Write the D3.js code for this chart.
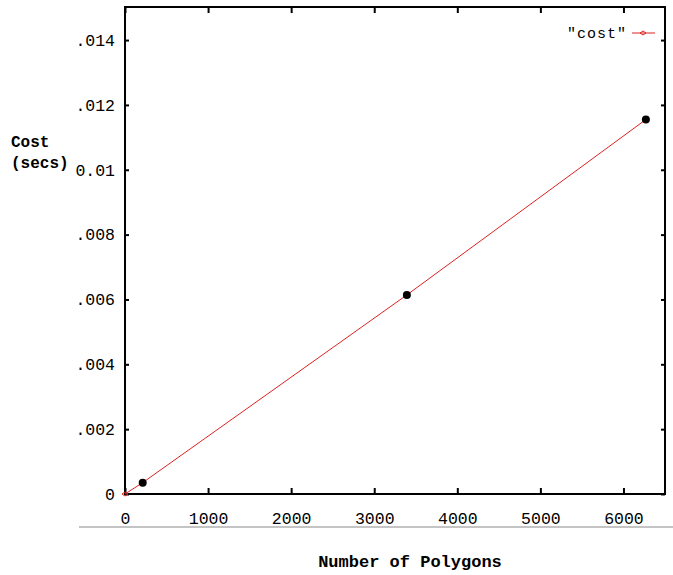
<!DOCTYPE html>
<html>
<head>
<meta charset="utf-8">
<script src="https://cdn.jsdelivr.net/npm/d3@7"></script>
<style>
  body { margin: 0; background: #fff; }
  svg { display: block; }
</style>
</head>
<body>
<div id="chart"></div>
<script>
    // values
    const polygons = [0, 213, 3393, 6270];
    const costs = [0, 0.00035, 0.00614, 0.01155];
    const xTicks = [0, 1000, 2000, 3000, 4000, 5000, 6000];
    const yTicks = [0, 0.002, 0.004, 0.006, 0.008, 0.01, 0.012, 0.014];
    const yTickLabels = ["0", ".002", ".004", ".006", ".008", "0.01", ".012", ".014"];

    const width = 673;
    const height = 575;
    const margin = { top: 7, right: 8, bottom: 81, left: 125 };

    const x = d3.scaleLinear()
        .domain([0, 6500])
        .range([margin.left, width - margin.right]);

    const y = d3.scaleLinear()
        .domain([0, 0.01502])
        .range([height - margin.bottom, margin.top]);

    const svg = d3.select("#chart")
        .append("svg")
        .attr("width", width)
        .attr("height", height);

    const mono = "'Liberation Mono', 'DejaVu Sans Mono', monospace";

    // grey rule under the x labels
    svg.append("line")
        .attr("x1", 79).attr("x2", width)
        .attr("y1", 527).attr("y2", 527)
        .attr("stroke", "#c4c4c4")
        .attr("stroke-width", 2);

    // axes with inward ticks, mirrored on top and right
    const tickFmt = d => yTickLabels[yTicks.indexOf(d)];

    svg.append("g")
        .attr("transform", `translate(0,${y(0)})`)
        .call(d3.axisBottom(x).tickValues(xTicks).tickFormat(d3.format("d")).tickSizeInner(-6).tickSizeOuter(0).tickPadding(18))
        .call(g => g.selectAll("text").attr("font-family", mono).attr("font-size", 16.5).attr("fill", "#000"));

    svg.append("g")
        .attr("transform", `translate(${x(0)},0)`)
        .call(d3.axisLeft(y).tickValues(yTicks).tickFormat(tickFmt).tickSizeInner(-4).tickSizeOuter(0).tickPadding(10))
        .call(g => g.selectAll("text").attr("font-family", mono).attr("font-size", 16.5).attr("fill", "#000"));

    svg.append("g")
        .attr("transform", `translate(0,${margin.top})`)
        .call(d3.axisTop(x).tickValues(xTicks).tickSizeInner(-6).tickSizeOuter(0).tickFormat(""));

    svg.append("g")
        .attr("transform", `translate(${width - margin.right},0)`)
        .call(d3.axisRight(y).tickValues(yTicks).tickSizeInner(-4).tickSizeOuter(0).tickFormat(""));

    svg.selectAll(".domain").remove();
    svg.selectAll(".tick line").attr("stroke", "#000").attr("stroke-width", 2);

    // frame
    svg.append("rect")
        .attr("x", x(0))
        .attr("y", margin.top)
        .attr("width", x.range()[1] - x(0))
        .attr("height", y(0) - margin.top)
        .attr("fill", "none")
        .attr("stroke", "#000")
        .attr("stroke-width", 2);

    const points = polygons.map((p, i) => [p, costs[i]]);

    svg.append("path")
        .datum(points)
        .attr("fill", "none")
        .attr("stroke", "#d22")
        .attr("stroke-width", 1)
        .attr("d", d3.line().x(d => x(d[0])).y(d => y(d[1])));

    // small red point markers
    svg.append("g")
        .selectAll("path")
        .data(points)
        .join("path")
        .attr("transform", d => `translate(${x(d[0])},${y(d[1])})`)
        .attr("d", "M-3,0L0,-2L3,0L0,2Z")
        .attr("fill", "none")
        .attr("stroke", "#d22")
        .attr("stroke-width", 1);

    // black measured dots
    svg.append("g")
        .selectAll("circle")
        .data(points.slice(1))
        .join("circle")
        .attr("cx", d => x(d[0]))
        .attr("cy", d => y(d[1]))
        .attr("r", 4)
        .attr("fill", "#000");

    // legend
    svg.append("text")
        .attr("x", 627)
        .attr("y", 38)
        .attr("text-anchor", "end")
        .attr("font-family", mono)
        .attr("font-size", 15)
        .attr("letter-spacing", 1)
        .text('"cost"');
    svg.append("line")
        .attr("x1", 632).attr("x2", 655)
        .attr("y1", 33).attr("y2", 33)
        .attr("stroke", "#d22");
    svg.append("path")
        .attr("transform", "translate(643,33)")
        .attr("d", "M-3,0L0,-2L3,0L0,2Z")
        .attr("fill", "none")
        .attr("stroke", "#d22");

    // axis titles
    const yTitle = svg.append("text")
        .attr("font-family", mono)
        .attr("font-weight", "bold")
        .attr("font-size", 16)
        .attr("fill", "#000");
    yTitle.append("tspan").attr("x", 11).attr("y", 147).text("Cost");
    yTitle.append("tspan").attr("x", 11).attr("y", 168).text("(secs)");

    svg.append("text")
        .attr("x", 410)
        .attr("y", 567)
        .attr("text-anchor", "middle")
        .attr("font-family", "'Liberation Mono', 'Courier New', monospace")
        .attr("font-weight", "bold")
        .attr("font-size", 17)
        .attr("fill", "#000")
        .text("Number of Polygons");
</script>
</body>
</html>
